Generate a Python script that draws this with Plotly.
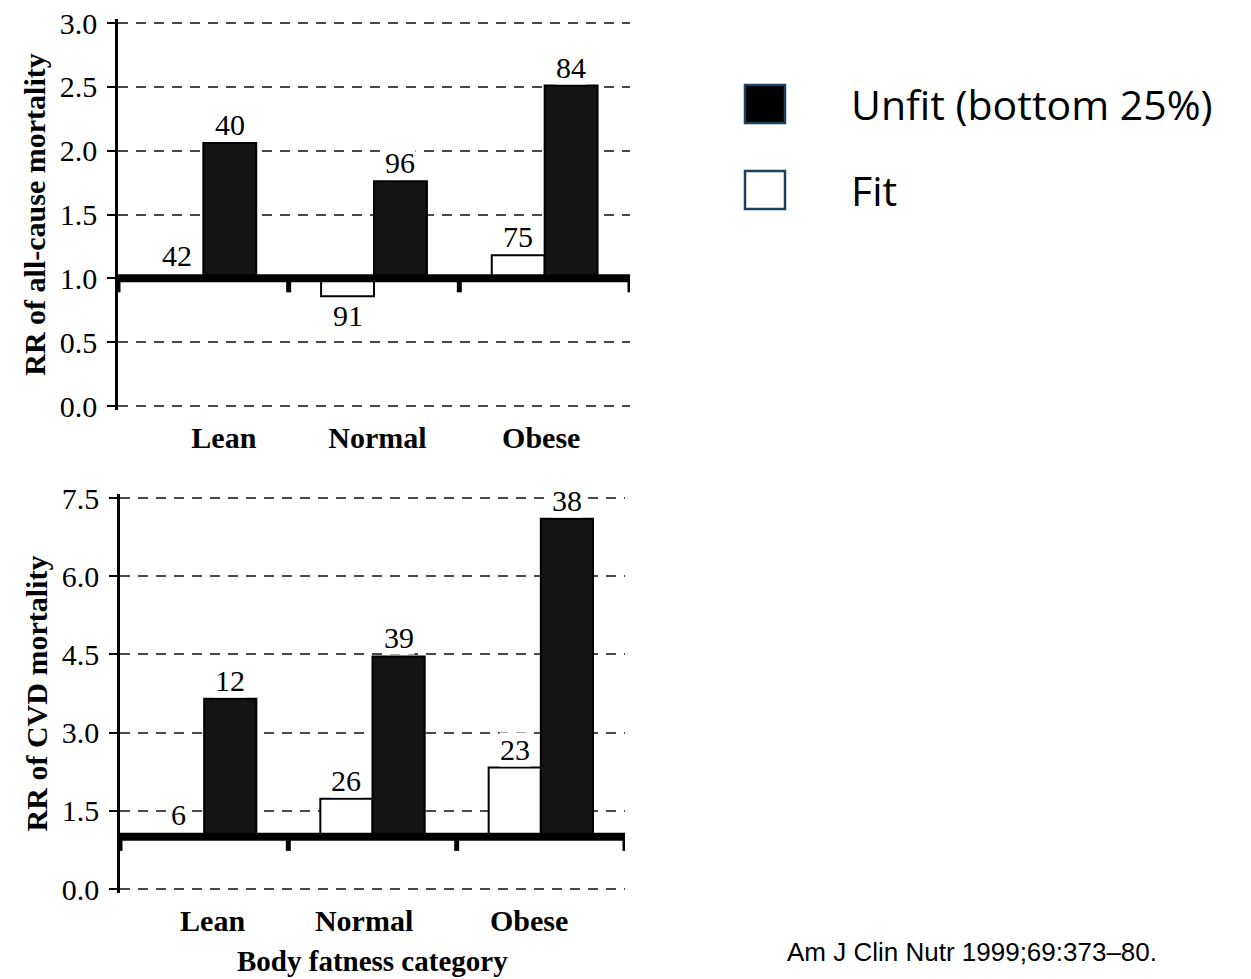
import plotly.graph_objects as go

# ---- data ----
categories = ["Lean", "Normal", "Obese"]
allcause_fit = [1.0, 0.86, 1.18]
allcause_unfit = [2.06, 1.76, 2.51]
allcause_fit_n = ["42", "91", "75"]
allcause_unfit_n = ["40", "96", "84"]
cvd_fit = [1.0, 1.73, 2.33]
cvd_unfit = [3.65, 4.46, 7.1]
cvd_fit_n = ["6", "26", "23"]
cvd_unfit_n = ["12", "39", "38"]
allcause_ticks = [0.0, 0.5, 1.0, 1.5, 2.0, 2.5, 3.0]
cvd_ticks = [0.0, 1.5, 3.0, 4.5, 6.0, 7.5]
reference_rr = 1.0
legend_labels = ["Unfit (bottom 25%)", "Fit"]
citation = "Am J Clin Nutr 1999;69:373\u201380."

# ---- style ----
OX, OY = 8, 8          # page body margin offset
W, H = 1251 - OX, 979 - OY
SERIF = "Liberation Serif"
OFF = 0.155
BW = 0.31
label_shift_top = [0.12, 0.02, -0.02]
label_shift_bot = [0.05, -0.05, -0.07]
FS = 30

def px(xp):
    return (xp - OX) / W

def py(yp):
    return 1 - (yp - OY) / H

def ydom(top_px, bot_px, ymax, pad_px=4.0):
    per = (bot_px - top_px) / ymax
    eps = pad_px / per
    return [py(bot_px + pad_px), py(top_px - pad_px)], [-eps, ymax + eps]

fig = go.Figure()

panels = [
    ("x", "y", allcause_fit, allcause_unfit, allcause_fit_n, allcause_unfit_n),
    ("x2", "y2", cvd_fit, cvd_unfit, cvd_fit_n, cvd_unfit_n),
]

annotations = []
shapes = []
for xa, ya, fit, unfit, fit_n, unfit_n in panels:
    idx = list(range(len(categories)))
    fig.add_trace(go.Bar(
        x=[i - OFF for i in idx], y=[v - reference_rr for v in fit], base=reference_rr,
        width=BW, marker=dict(color="white", line=dict(color="black", width=2)),
        xaxis=xa, yaxis=ya, showlegend=False, hoverinfo="skip"))
    fig.add_trace(go.Bar(
        x=[i + OFF for i in idx], y=[v - reference_rr for v in unfit], base=reference_rr,
        width=BW, marker=dict(color="#141414", line=dict(color="black", width=2)),
        xaxis=xa, yaxis=ya, showlegend=False, hoverinfo="skip"))
    for i in idx:
        for xv, v, t in ((i - OFF, fit[i], fit_n[i]), (i + OFF, unfit[i], unfit_n[i])):
            below = v < reference_rr
            annotations.append(dict(
                x=xv, y=v, xref=xa, yref=ya, text=t, showarrow=False,
                yanchor="top" if below else "bottom",
                yshift=-2 if below else (5 if v == reference_rr else 1),
                font=dict(family=SERIF, size=FS, color="black"),
                bgcolor="white", borderpad=0))
    # thick reference line at RR = 1
    shapes.append(dict(type="line", xref=xa, yref=ya, x0=-0.5, x1=2.5,
                       y0=reference_rr, y1=reference_rr,
                       line=dict(color="black", width=8), layer="above"))
    for b in [-0.5, 0.5, 1.5, 2.5]:
        shapes.append(dict(type="line", xref=xa, yref=ya, x0=b, x1=b,
                           ysizemode="pixel", yanchor=reference_rr, y0=0, y1=-14,
                           line=dict(color="black", width=5), layer="above"))

common_y = dict(
    showline=True, linecolor="black", linewidth=2.5, mirror=False,
    ticks="outside", ticklen=8, tickwidth=2, tickcolor="black",
    showgrid=True, gridcolor="#4a4a4a", gridwidth=1.5, griddash="10px,8px",
    zeroline=False, tickfont=dict(family=SERIF, size=FS, color="black"),
    tickformat=".1f", fixedrange=True, automargin=False, ticklabelstandoff=4,
    ticklabeloverflow="allow",
)
common_x = dict(
    range=[-0.5, 2.5], showline=False, showgrid=False, zeroline=False, ticks="",
    tickfont=dict(family=SERIF, size=FS, color="black"), ticklabelstandoff=7,
    fixedrange=True, automargin=False,
)

dom1, rng1 = ydom(23, 406, 3.0)
dom2, rng2 = ydom(498, 889, 7.5)

fig.update_layout(
    width=W, height=H, margin=dict(l=0, r=0, t=0, b=0),
    paper_bgcolor="white", plot_bgcolor="white", barmode="overlay",
    showlegend=False,
    xaxis=dict(common_x, domain=[px(118), px(630)], anchor="y",
               tickvals=[i + s for i, s in enumerate(label_shift_top)],
               ticktext=["<b>%s</b>" % c for c in categories]),
    yaxis=dict(common_y, domain=dom1, anchor="x", range=rng1,
               tickvals=allcause_ticks,
               title=dict(text="<b>RR of all-cause mortality</b>",
                          font=dict(family=SERIF, size=FS, color="black"), standoff=6)),
    xaxis2=dict(common_x, domain=[px(120), px(625)], anchor="y2",
                tickvals=[i + s for i, s in enumerate(label_shift_bot)],
                ticktext=["<b>%s</b>" % c for c in categories]),
    yaxis2=dict(common_y, domain=dom2, anchor="x2", range=rng2,
                tickvals=cvd_ticks,
                title=dict(text="<b>RR of CVD mortality</b>",
                           font=dict(family=SERIF, size=FS, color="black"), standoff=6)),
)

annotations.append(dict(x=px(372), y=py(961), xref="paper", yref="paper",
                        text="<b>Body fatness category</b>", showarrow=False,
                        xanchor="center", yanchor="middle",
                        font=dict(family=SERIF, size=29, color="black")))

# legend
legend_fill = ["black", "white"]
legend_y = [104, 190]
for lab, fill, yc in zip(legend_labels, legend_fill, legend_y):
    shapes.append(dict(type="rect", xref="paper", yref="paper",
                       x0=px(745), x1=px(785), y0=py(yc + 19), y1=py(yc - 19),
                       fillcolor=fill, line=dict(color="#1f3f5f", width=2.5)))
    annotations.append(dict(x=px(849), y=py(yc), xref="paper", yref="paper",
                            text=lab, showarrow=False, xanchor="left", yanchor="middle",
                            font=dict(family="Open Sans", size=41, color="black")))

annotations.append(dict(x=px(785), y=py(952), xref="paper", yref="paper",
                        text=citation, showarrow=False, xanchor="left", yanchor="middle",
                        font=dict(family="Liberation Sans", size=26, color="black")))

fig.update_layout(annotations=annotations, shapes=shapes)
fig.write_html("out.html")
